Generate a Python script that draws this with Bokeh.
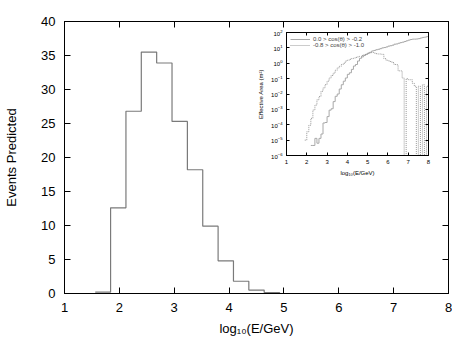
from bokeh.plotting import figure
from bokeh.models import (Range1d, LinearAxis, LogAxis, FixedTicker, Legend, LegendItem,
                          CustomJSTickFormatter)
from bokeh.layouts import column
from bokeh.embed import file_html
from bokeh.resources import INLINE

# ---------------- data ----------------
# main histogram: predicted events per log10(E/GeV) bin
bin_edges = [1.56, 1.84, 2.12, 2.40, 2.68, 2.96, 3.24, 3.52, 3.80, 4.08, 4.36, 4.64, 4.92]
events = [0.2, 12.6, 26.8, 35.5, 33.9, 25.3, 18.2, 9.9, 4.8, 1.8, 0.5, 0.15]
main_xticks = [1, 2, 3, 4, 5, 6, 7, 8]
main_yticks = [0, 5, 10, 15, 20, 25, 30, 35, 40]

# inset: effective area (m^2), bins of 0.1 in log10(E/GeV)
area_bin_width = 0.1
horiz_start = 2.2   # 0.0 > cos > -0.2
area_horiz = [4.5e-6, 4.5e-6, 1.3e-5, 6.3e-6, 1.3e-5, 2.5e-5, 1.3e-4, 1.4e-4, 3.4e-4, 8.9e-4,
              1.1e-3, 3.2e-3, 7.1e-3, 1.0e-2, 2.1e-2, 4.0e-2, 6.8e-2, 0.11, 0.19, 0.24,
              0.40, 0.66, 0.83, 1.4, 2.1, 2.6, 3.2, 3.8, 4.5, 5.2,
              6.3, 6.8, 7.6, 8.1, 8.9, 10.0, 10.5, 11.5, 13.0, 13.8,
              15.0, 17.4, 18.0, 20.0, 22.0, 23.5, 26.0, 29.0, 32.0, 35.0,
              37.0, 37.0, 38.0, 40.0, 44.0, 48.0, 50.0, 54.0]
up_start = 1.9      # -0.8 > cos > -1.0
area_up = [1.0e-5, 3.5e-5, 9.3e-5, 2.6e-4, 9.1e-4, 1.9e-3, 4.2e-3, 6.9e-3, 1.5e-2, 2.5e-2,
           4.1e-2, 6.8e-2, 0.11, 0.16, 0.23, 0.35, 0.5, 0.63, 0.83, 1.0,
           1.4, 1.6, 1.8, 2.0, 2.2, 2.4, 2.6, 2.8, 3.2, 3.5,
           4.0, 4.5, 4.8, 5.0, 4.5, 4.2, 4.0, 4.0, 3.8, 2.0,
           1.6, 1.4, 1.3, 1.1, 0.83, 0.8, 0.32, 0.32, 0.11, 0.0,
           0.1, 0.085, 0.085, 0.05, 0.032, 0.0, 0.032, 0.0, 0.04, 0.0,
           0.032]
inset_xticks = [1, 2, 3, 4, 5, 6, 7, 8]
inset_yticks = [1e-6, 1e-5, 1e-4, 1e-3, 1e-2, 1e-1, 1e0, 1e1, 1e2]
legend_labels = ["0.0 > cos(θ) > -0.2", "-0.8 > cos(θ) > -1.0"]

FONT = "Liberation Sans"
blank = CustomJSTickFormatter(code="return ''")

def style_axis(ax, ticks, size, tick_len, standoff, labels=True):
    ax.ticker = FixedTicker(ticks=ticks)
    ax.major_tick_in = tick_len
    ax.major_tick_out = 0
    ax.minor_tick_line_color = None
    ax.axis_line_color = "black"
    ax.major_tick_line_color = "black"
    ax.major_label_text_font = FONT
    ax.major_label_text_font_size = size
    ax.major_label_text_color = "black"
    ax.major_label_standoff = standoff
    ax.axis_label_text_font = FONT
    ax.axis_label_text_font_style = "normal"
    ax.axis_label_text_color = "black"
    if not labels:
        ax.formatter = blank

# ---------------- main figure ----------------
p = figure(width=452, height=347, x_range=Range1d(1, 8), y_range=Range1d(0, 40),
           output_backend="svg", toolbar_location=None,
           min_border_left=64, min_border_right=4, min_border_top=21, min_border_bottom=54)
p.grid.visible = False
p.outline_line_color = "black"
p.background_fill_color = "white"

style_axis(p.xaxis[0], main_xticks, "13px", 6, 9)
style_axis(p.yaxis[0], main_yticks, "13px", 6, 9)
p.xaxis[0].axis_label = "log₁₀(E/GeV)"
p.xaxis[0].axis_label_text_font_size = "13px"
p.xaxis[0].axis_label_standoff = 6
p.yaxis[0].axis_label = "Events Predicted"
p.yaxis[0].axis_label_text_font_size = "13px"
p.yaxis[0].axis_label_standoff = 19

top = LinearAxis()
style_axis(top, main_xticks, "13px", 6, 0, labels=False)
p.add_layout(top, "above")
right = LinearAxis()
style_axis(right, main_yticks, "13px", 6, 0, labels=False)
p.add_layout(right, "right")

hx = bin_edges
hy = events + [0.0]
p.step(x=hx, y=hy, mode="after", line_color="#7a7a7a", line_width=1.2)

# ---------------- inset ----------------
ins = figure(width=210, height=155, x_range=Range1d(1, 8), y_range=Range1d(1e-6, 1e2),
             y_axis_type="log", output_backend="svg", toolbar_location=None,
             min_border_left=40, min_border_right=4, min_border_top=4, min_border_bottom=28,
             margin=(-319, 0, 0, 222))
ins.grid.visible = False
ins.outline_line_color = "black"
ins.border_fill_alpha = 0
ins.background_fill_color = "white"

style_axis(ins.xaxis[0], inset_xticks, "6px", 3, 4)
style_axis(ins.yaxis[0], inset_yticks, "6px", 3, 4)
ins.xaxis[0].axis_label = "log₁₀(E/GeV)"
ins.xaxis[0].axis_label_text_font_size = "6px"
ins.xaxis[0].axis_label_standoff = 3
ins.yaxis[0].axis_label = "Effective Area (m²)"
ins.yaxis[0].axis_label_text_font_size = "6px"
ins.yaxis[0].axis_label_standoff = 4

itop = LinearAxis()
style_axis(itop, inset_xticks, "6px", 3, 0, labels=False)
ins.add_layout(itop, "above")
iright = LogAxis()
style_axis(iright, inset_yticks, "6px", 3, 0, labels=False)
ins.add_layout(iright, "right")

def step_points(start, vals):
    xs = [round(start + i * area_bin_width, 2) for i in range(len(vals) + 1)]
    ys = [v if v > 0 else 1e-12 for v in vals] + [1e-12]
    return xs, ys

x1, y1 = step_points(horiz_start, area_horiz)
r1 = ins.step(x=x1, y=y1, mode="after", line_color="#a8a8a8", line_width=1)
x2, y2 = step_points(up_start, area_up)
r2 = ins.step(x=x2, y=y2, mode="after", line_color="#8c8c8c", line_width=0.9, line_dash="1 1")

leg = Legend(items=[LegendItem(label=legend_labels[0], renderers=[r1]),
                    LegendItem(label=legend_labels[1], renderers=[r2])],
             location="top_left", border_line_color=None, background_fill_alpha=0,
             label_text_font=FONT, label_text_font_size="6px", label_height=6,
             glyph_height=6, glyph_width=20, spacing=0, padding=3, margin=4,
             label_standoff=3)
ins.add_layout(leg)

layout = column(p, ins)
open("out.html", "w").write(file_html(layout, INLINE))
